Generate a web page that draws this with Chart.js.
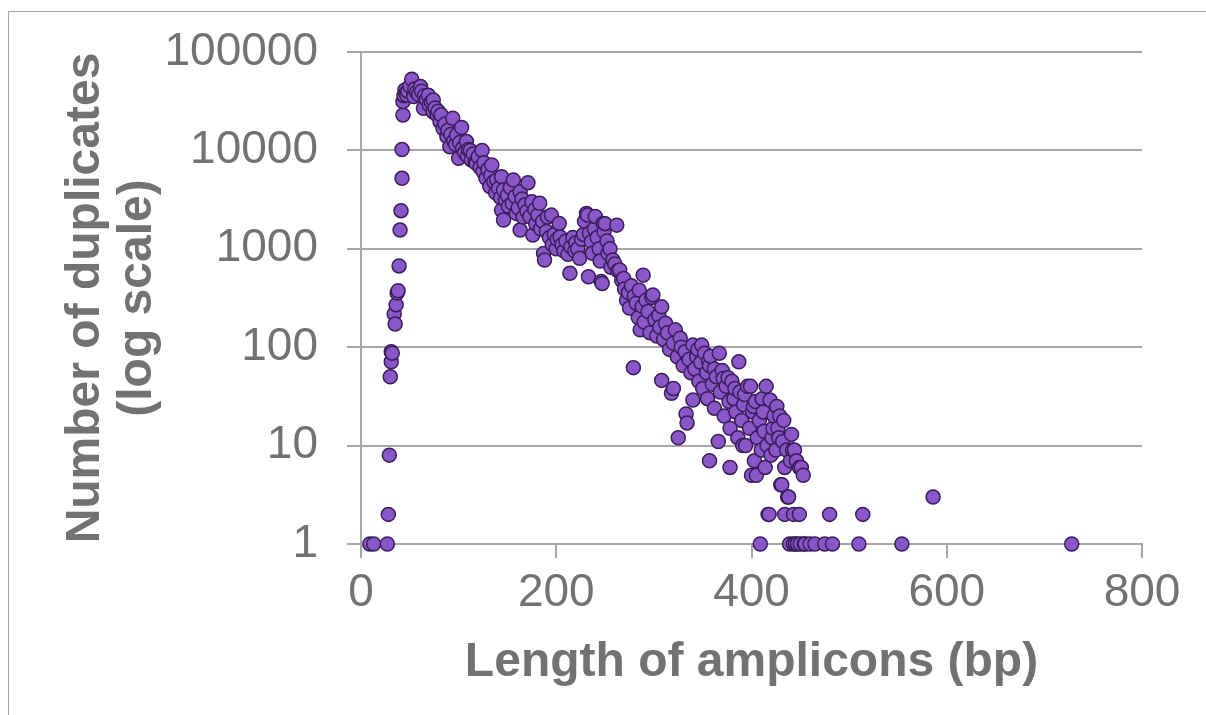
<!DOCTYPE html>
<html>
<head>
<meta charset="utf-8">
<script src="https://cdn.jsdelivr.net/npm/chart.js@4/dist/chart.umd.min.js"></script>
<style>
    body { margin: 0; background: #fff; }
    #wrap { position: relative; width: 1206px; height: 715px; overflow: hidden; }
    #frame { position: absolute; left: 8px; top: 11px; width: 1300px; height: 800px; border: 1px solid #a6a6a6; }
    canvas { position: absolute; left: 0; top: 0; }
</style>
</head>
<body>
<div id="wrap">
    <div id="frame"></div>
    <canvas id="scatterChart" width="1206" height="715"></canvas>
</div>
<script>
// amplicon length (bp)
var lengths = [
    9, 13, 27, 28, 29, 30, 31, 31, 32, 34, 35, 36, 37, 38, 39, 40, 41, 42, 42, 43,
    43, 44, 45, 46, 47, 48, 50, 52, 54, 55, 57, 59, 61, 62, 64, 65, 67, 69, 70, 72,
    74, 74, 76, 78, 79, 81, 82, 84, 86, 88, 89, 91, 92, 94, 95, 97, 98, 100, 101, 103,
    104, 106, 108, 109, 110, 112, 113, 115, 117, 118, 120, 122, 124, 125, 126, 128, 130, 132, 133, 134,
    136, 138, 139, 141, 143, 144, 144, 146, 146, 148, 150, 151, 153, 155, 156, 158, 159, 161, 163, 163,
    165, 166, 168, 170, 171, 173, 175, 176, 178, 179, 181, 183, 184, 186, 187, 188, 190, 191, 193, 195,
    196, 198, 200, 201, 203, 204, 206, 208, 210, 212, 214, 215, 217, 219, 220, 222, 224, 226, 228, 229,
    231, 232, 233, 234, 236, 237, 239, 240, 242, 244, 245, 246, 247, 248, 249, 250, 252, 253, 255, 256,
    258, 260, 262, 263, 265, 267, 269, 270, 272, 274, 275, 277, 279, 280, 282, 284, 285, 286, 288, 289,
    290, 292, 294, 296, 298, 299, 301, 303, 305, 306, 308, 308, 310, 312, 314, 316, 318, 320, 320, 322,
    324, 325, 327, 328, 330, 332, 333, 334, 336, 338, 340, 340, 342, 344, 345, 346, 348, 349, 350, 352,
    354, 355, 356, 357, 357, 358, 360, 362, 362, 364, 366, 367, 368, 370, 371, 372, 374, 376, 377, 378,
    378, 380, 382, 383, 384, 386, 387, 388, 390, 391, 392, 393, 394, 396, 398, 399, 400, 401, 402, 403,
    404, 405, 406, 408, 409, 410, 411, 412, 413, 414, 415, 416, 417, 418, 419, 420, 421, 422, 423, 425,
    426, 427, 428, 429, 430, 431, 432, 433, 434, 434, 436, 437, 438, 439, 440, 441, 442, 443, 443, 444,
    445, 446, 447, 449, 449, 450, 451, 453, 454, 455, 460, 465, 475, 480, 483, 510, 514, 554, 586, 728
];

// number of duplicates
var duplicates = [
    1, 1, 1, 2, 8, 50, 71, 90, 87, 218, 172, 270, 355, 375, 670, 1550, 2440, 5200, 10200, 22900,
    31300, 36000, 41000, 38000, 36400, 40000, 45000, 52800, 35300, 42000, 39000, 37000, 44500, 40000, 26800, 36000, 33000, 36400, 29000, 31000,
    32500, 24600, 27000, 22900, 25000, 19600, 23000, 16700, 18500, 13800, 16000, 10900, 14500, 21200, 12500, 11500, 14300, 8300, 12000, 17100,
    10500, 9500, 12300, 8800, 10200, 10000, 8000, 9200, 7600, 7400, 8600, 6700, 10000, 6100, 7500, 5200, 6400, 4300, 5600, 7100,
    4800, 3700, 5000, 4100, 3300, 5400, 2470, 3960, 1960, 3100, 3500, 2700, 4200, 2900, 5000, 3400, 2290, 2600, 3800, 1550,
    3200, 2100, 2800, 2400, 4700, 2130, 3000, 1380, 2500, 1800, 2200, 2900, 1600, 1900, 895, 770, 1500, 2100, 1300, 2200,
    1100, 1400, 1000, 1250, 1810, 1320, 1100, 950, 1200, 880, 565, 1050, 1300, 950, 1150, 1000, 800, 1250, 1400, 1900,
    2290, 2200, 520, 1440, 1180, 900, 1600, 2130, 1300, 1000, 750, 465, 445, 1810, 1500, 1800, 1200, 900, 1000, 650,
    770, 700, 1740, 600, 610, 480, 500, 390, 300, 360, 250, 420, 62, 330, 280, 200, 380, 150, 260, 540,
    180, 300, 230, 140, 320, 340, 190, 130, 210, 160, 257, 46, 120, 175, 140, 95, 34, 38, 110, 150,
    80, 12, 123, 100, 65, 90, 21, 17, 75, 55, 29, 105, 60, 80, 95, 45, 70, 105, 38, 87,
    55, 30, 72, 7, 65, 81, 42, 24, 60, 50, 11, 87, 35, 58, 48, 20, 40, 49, 28, 6,
    15, 45, 30, 38, 22, 12, 71, 35, 18, 10, 26, 33, 10, 40, 15, 40, 5, 22, 25, 7,
    28, 5, 12, 18, 1, 9, 30, 22, 14, 6, 40, 10, 2, 2, 29, 8, 12, 15, 20, 9,
    25, 15, 12, 20, 4, 4, 11, 18, 2, 6, 9, 3, 3, 1, 7, 13, 9, 2, 1, 9,
    1, 7, 1, 2, 6, 1, 6, 5, 1, 1, 1, 1, 1, 2, 1, 1, 2, 1, 3, 1
];

var xTicks = [0, 200, 400, 600, 800];
var yTicks = [1, 10, 100, 1000, 10000, 100000];

var points = lengths.map(function (x, i) {
    return { x: x, y: duplicates[i] };
});

var gridGrey = "#a6a6a6";
var textGrey = "#707372";

var ctx = document.getElementById("scatterChart");
new Chart(ctx, {
    type: "scatter",
    data: {
        datasets: [
            {
                data: points,
                pointRadius: 7,
                pointHoverRadius: 7,
                pointBackgroundColor: "#8a57c8",
                pointBorderColor: "#3b1d5c",
                pointBorderWidth: 1.5,
                clip: false,
            },
        ],
    },
    options: {
        responsive: false,
        devicePixelRatio: 1,
        animation: false,
        layout: {
            padding: { left: 0, top: 52, right: 64, bottom: 0 },
        },
        plugins: {
            legend: { display: false },
            tooltip: { enabled: false },
        },
        scales: {
            x: {
                type: "linear",
                min: xTicks[0],
                max: xTicks[xTicks.length - 1],
                afterBuildTicks: function (scale) {
                    scale.ticks = xTicks.map(function (v) { return { value: v }; });
                },
                afterFit: function (scale) {
                    scale.height = 171;
                },
                grid: {
                    drawOnChartArea: false,
                    color: gridGrey,
                    lineWidth: 2,
                    tickLength: 14,
                },
                border: { color: gridGrey, width: 2 },
                ticks: {
                    color: textGrey,
                    padding: 8,
                    font: { family: "Liberation Sans, Arial, sans-serif", size: 46 },
                    maxRotation: 0,
                },
                title: {
                    display: true,
                    text: "Length of amplicons (bp)",
                    color: textGrey,
                    font: { family: "Liberation Sans, Arial, sans-serif", size: 48, weight: "bold", lineHeight: 1.1 },
                    padding: { top: 0, bottom: 26 },
                },
            },
            y: {
                type: "logarithmic",
                min: yTicks[0],
                max: yTicks[yTicks.length - 1],
                afterBuildTicks: function (scale) {
                    scale.ticks = yTicks.map(function (v) { return { value: v }; });
                },
                afterFit: function (scale) {
                    scale.width = 361;
                    // the big tick padding should not push the plot area down
                    scale.paddingTop = 0;
                    scale.paddingBottom = 0;
                },
                grid: {
                    color: gridGrey,
                    lineWidth: 2,
                    tickLength: 14,
                },
                border: { color: gridGrey, width: 2 },
                ticks: {
                    color: textGrey,
                    padding: 29,
                    font: { family: "Liberation Sans, Arial, sans-serif", size: 46 },
                    callback: function (value) {
                        return String(value);
                    },
                },
                title: {
                    display: true,
                    text: ["Number of duplicates", "(log scale)"],
                    color: textGrey,
                    font: { family: "Liberation Sans, Arial, sans-serif", size: 48, weight: "bold", lineHeight: 1.1 },
                    padding: { top: 59, bottom: 0 },
                },
            },
        },
    },
});
</script>
</body>
</html>
